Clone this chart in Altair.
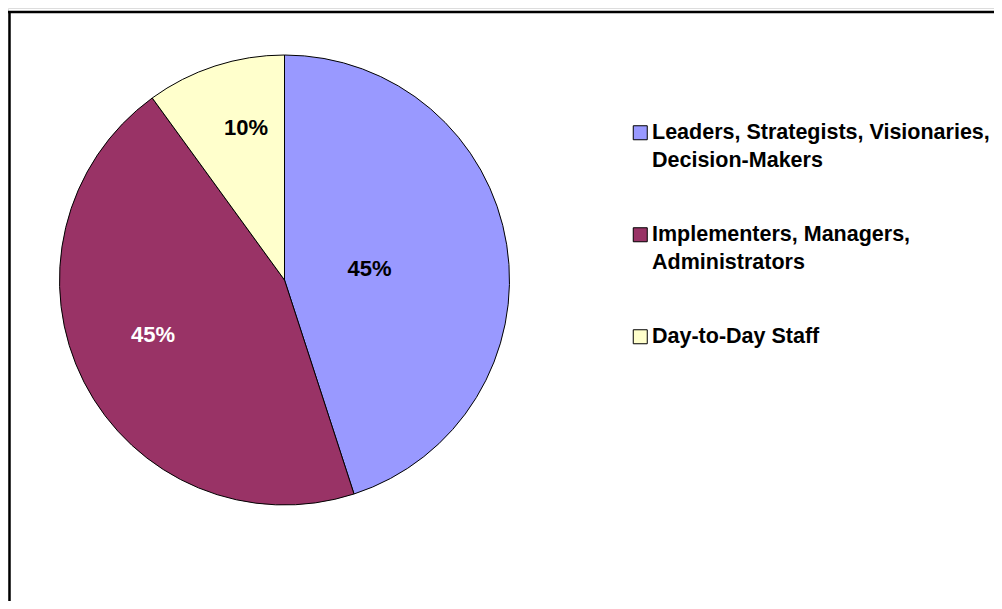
import altair as alt
import pandas as pd

categories = [
    "Leaders, Strategists, Visionaries, Decision-Makers",
    "Implementers, Managers, Administrators",
    "Day-to-Day Staff",
]
shares = [45, 45, 10]
pct_labels = ["45%", "45%", "10%"]
legend_lines = [
    ["Leaders, Strategists, Visionaries,", "Decision-Makers"],
    ["Implementers, Managers,", "Administrators"],
    ["Day-to-Day Staff"],
]
colors = ["#9999FF", "#993366", "#FFFFCC"]
text_colors = ["#000000", "#FFFFFF", "#000000"]
label_radii = [86, 142, 157]
label_nudges = [(0, 2), (-5, -9), (10, -3)]

FONT = "Liberation Sans, Arial, sans-serif"
CX, CY = 276.5, 272

df = pd.DataFrame({
    "category": categories,
    "share": shares,
    "label": pct_labels,
    "order": list(range(len(categories))),
})

# multi-line legend labels
parts = []
for cat, lines in zip(categories, legend_lines):
    arr = "[" + ", ".join("'" + l + "'" for l in lines) + "]"
    parts.append(f"datum.label == '{cat}' ? {arr}")
label_expr = " : ".join(parts) + " : datum.label"

base = alt.Chart(df)

pie = base.mark_arc(outerRadius=225, stroke="#000000", strokeWidth=1).encode(
    theta=alt.Theta("share:Q", stack=True),
    color=alt.Color(
        "category:N",
        sort=categories,
        scale=alt.Scale(domain=categories, range=colors),
        legend=alt.Legend(
            title=None,
            orient="none",
            legendX=621.5,
            legendY=114,
            padding=0,
            symbolType="square",
            symbolSize=196,
            symbolStrokeColor="#000000",
            symbolStrokeWidth=1,
            labelFont=FONT,
            labelFontSize=21.5,
            labelFontWeight="bold",
            labelColor="#000000",
            labelOffset=1,
            labelBaseline="middle",
            labelLimit=1000,
            labelExpr=label_expr,
            rowPadding=51,
        ),
    ),
    order=alt.Order("order:Q"),
    x=alt.value(CX),
    y=alt.value(CY),
)

text_layers = []
for cat, tcol, r, (ndx, ndy) in zip(categories, text_colors, label_radii, label_nudges):
    text_layers.append(
        base.mark_text(
            radius=r, font=FONT, fontSize=22, fontWeight="bold", color=tcol,
            dx=ndx, dy=ndy,
        ).encode(
            theta=alt.Theta("share:Q", stack=True),
            detail="category:N",
            order=alt.Order("order:Q"),
            text=alt.condition(alt.datum.category == cat, "label:N", alt.value("")),
            x=alt.value(CX),
            y=alt.value(CY),
        )
    )

frame_df = pd.DataFrame({"k": [0]})
top_rule = alt.Chart(frame_df).mark_rule(color="#000000", strokeWidth=2.5).encode(
    x=alt.value(0), x2=alt.value(986), y=alt.value(4)
)
left_rule = alt.Chart(frame_df).mark_rule(color="#000000", strokeWidth=2.5).encode(
    x=alt.value(1.5), y=alt.value(4), y2=alt.value(593)
)

chart = alt.layer(pie, *text_layers, top_rule, left_rule).properties(
    width=986,
    height=593,
    padding=0,
    autosize=alt.AutoSizeParams(type="none"),
).configure_view(stroke=None).configure(
    background="#FFFFFF",
    style={"guide-label": {"lineHeight": 28}},
)

chart.save("out.html", embed_options={"renderer": "svg", "actions": False})
